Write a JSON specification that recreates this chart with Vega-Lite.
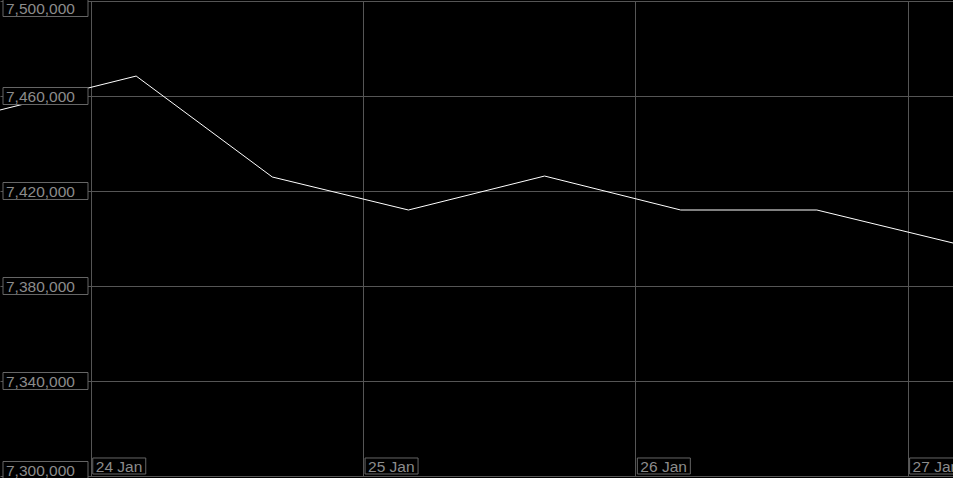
{
  "$schema": "https://vega.github.io/schema/vega-lite/v6.json",
  "width": 953,
  "height": 475,
  "autosize": {"type": "none"},
  "padding": {"top": 1, "bottom": 2, "left": 0, "right": 0},
  "background": "#000000",
  "config": {
    "view": {"stroke": null}
  },
  "datasets": {
    "series": [
      {"t": "2024-01-23T16:00:00Z", "v": 7454100},
      {"t": "2024-01-24T04:00:00Z", "v": 7468400},
      {"t": "2024-01-24T16:00:00Z", "v": 7425900},
      {"t": "2024-01-25T04:00:00Z", "v": 7412000},
      {"t": "2024-01-25T16:00:00Z", "v": 7426300},
      {"t": "2024-01-26T04:00:00Z", "v": 7412000},
      {"t": "2024-01-26T16:00:00Z", "v": 7412000},
      {"t": "2024-01-27T04:00:00Z", "v": 7398100}
    ],
    "ylabels": [
      {"v": 7300000}, {"v": 7340000}, {"v": 7380000},
      {"v": 7420000}, {"v": 7460000}, {"v": 7500000}
    ],
    "xlabels": [
      {"t": "2024-01-24T00:00:00Z", "label": "24 Jan"},
      {"t": "2024-01-25T00:00:00Z", "label": "25 Jan"},
      {"t": "2024-01-26T00:00:00Z", "label": "26 Jan"},
      {"t": "2024-01-27T00:00:00Z", "label": "27 Jan"}
    ]
  },
  "layer": [
    {
      "data": {"name": "series"},
      "mark": {"type": "line", "color": "#ffffff", "strokeWidth": 1},
      "encoding": {
        "x": {
          "field": "t", "type": "temporal",
          "scale": {
            "type": "utc",
            "domain": ["2024-01-23T16:00:00Z", "2024-01-27T04:00:00Z"]
          },
          "axis": {
            "title": null, "labels": false, "ticks": false, "domain": false,
            "grid": true, "gridColor": "#555555", "gridWidth": 1,
            "tickCount": {"interval": "day", "step": 1}
          }
        },
        "y": {
          "field": "v", "type": "quantitative",
          "scale": {"domain": [7300000, 7500000], "nice": false, "zero": false},
          "axis": {
            "title": null, "labels": false, "ticks": false, "domain": false,
            "grid": true, "gridColor": "#555555", "gridWidth": 1,
            "values": [7300000, 7340000, 7380000, 7420000, 7460000, 7500000]
          }
        }
      }
    },
    {
      "data": {"name": "ylabels"},
      "transform": [{"filter": "datum.v > 7300000 && datum.v < 7500000"}],
      "mark": {"type": "point", "shape": "M0.0706,-0.2H2.0706V0.2H0.0706Z", "size": 7225, "filled": true, "fill": "#000000", "stroke": "#666666", "strokeWidth": 1, "opacity": 1},
      "encoding": {
        "x": {"datum": "2024-01-23T16:00:00Z", "type": "temporal"},
        "y": {"field": "v", "type": "quantitative"}
      }
    },
    {
      "data": {"name": "ylabels"},
      "transform": [{"filter": "datum.v > 7300000 && datum.v < 7500000"}],
      "mark": {"type": "text", "align": "left", "baseline": "middle", "dx": 6, "dy": 1, "font": "Liberation Sans", "fontSize": 15.5, "color": "#8c8c8c"},
      "encoding": {
        "x": {"datum": "2024-01-23T16:00:00Z", "type": "temporal"},
        "y": {"field": "v", "type": "quantitative"},
        "text": {"field": "v", "type": "quantitative", "format": ","}
      }
    },
    {
      "data": {"name": "ylabels"},
      "transform": [{"filter": "datum.v == 7500000"}],
      "mark": {"type": "point", "shape": "M0.0706,-0.0353H2.0706V0.3647H0.0706Z", "size": 7225, "filled": true, "fill": "#000000", "stroke": "#666666", "strokeWidth": 1, "opacity": 1},
      "encoding": {
        "x": {"datum": "2024-01-23T16:00:00Z", "type": "temporal"},
        "y": {"field": "v", "type": "quantitative"}
      }
    },
    {
      "data": {"name": "ylabels"},
      "transform": [{"filter": "datum.v == 7500000"}],
      "mark": {"type": "text", "align": "left", "baseline": "middle", "dx": 6, "dy": 8, "font": "Liberation Sans", "fontSize": 15.5, "color": "#8c8c8c"},
      "encoding": {
        "x": {"datum": "2024-01-23T16:00:00Z", "type": "temporal"},
        "y": {"field": "v", "type": "quantitative"},
        "text": {"field": "v", "type": "quantitative", "format": ","}
      }
    },
    {
      "data": {"name": "ylabels"},
      "transform": [{"filter": "datum.v == 7300000"}],
      "mark": {"type": "point", "shape": "M0.0706,-0.3412H2.0706V0.0588H0.0706Z", "size": 7225, "filled": true, "fill": "#000000", "stroke": "#666666", "strokeWidth": 1, "opacity": 1},
      "encoding": {
        "x": {"datum": "2024-01-23T16:00:00Z", "type": "temporal"},
        "y": {"field": "v", "type": "quantitative"}
      }
    },
    {
      "data": {"name": "ylabels"},
      "transform": [{"filter": "datum.v == 7300000"}],
      "mark": {"type": "text", "align": "left", "baseline": "middle", "dx": 6, "dy": -5, "font": "Liberation Sans", "fontSize": 15.5, "color": "#8c8c8c"},
      "encoding": {
        "x": {"datum": "2024-01-23T16:00:00Z", "type": "temporal"},
        "y": {"field": "v", "type": "quantitative"},
        "text": {"field": "v", "type": "quantitative", "format": ","}
      }
    },
    {
      "data": {"name": "xlabels"},
      "mark": {"type": "point", "shape": "M-1,-0.302H1V0.302H-1Z", "size": 2809, "filled": true, "fill": "#000000", "stroke": "#666666", "strokeWidth": 1, "opacity": 1, "xOffset": 28.5, "yOffset": -10},
      "encoding": {
        "x": {"field": "t", "type": "temporal"},
        "y": {"datum": 7300000, "type": "quantitative"}
      }
    },
    {
      "data": {"name": "xlabels"},
      "mark": {"type": "text", "align": "left", "baseline": "middle", "dx": 5, "dy": -9, "font": "Liberation Sans", "fontSize": 15.5, "color": "#8c8c8c"},
      "encoding": {
        "x": {"field": "t", "type": "temporal"},
        "y": {"datum": 7300000, "type": "quantitative"},
        "text": {"field": "label", "type": "nominal"}
      }
    }
  ]
}
